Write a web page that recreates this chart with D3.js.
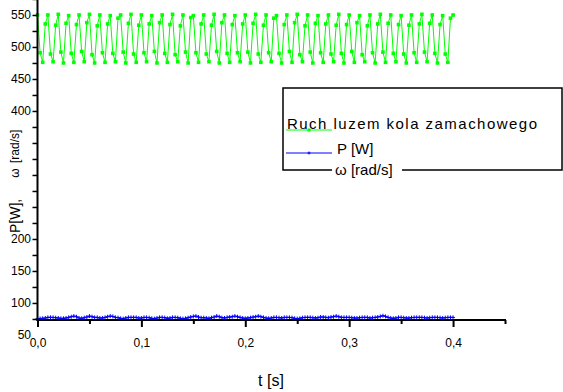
<!DOCTYPE html>
<html><head><meta charset="utf-8">
<script src="https://cdn.jsdelivr.net/npm/d3@7"></script>
<style>
html,body{margin:0;padding:0;background:#fff;}
svg{display:block;font-family:"Liberation Sans",Arial,sans-serif;}
</style></head>
<body>
<svg id="chart" width="563" height="392"></svg>
<script>
// ---- data ----
const tStart = 0, tStep = 0.0025;
const omegaSeries = [
550,491,476,536, 550,489,477,534, 551,492,475,537, 549,490,476,535,
550,493,477,538, 551,488,475,533, 550,491,476,536, 549,490,477,545,
550,492,475,537, 551,489,476,534, 550,491,477,536, 549,493,475,538,
550,490,476,535, 551,488,477,533, 550,492,475,546, 549,491,476,536,
550,489,477,534, 551,493,475,538, 550,490,476,535, 549,491,477,536,
550,492,475,537, 551,489,476,534, 550,491,477,545, 549,490,475,535,
550,493,476,538, 551,488,477,533, 550,492,475,537, 549,491,476,536,
550,489,477,534, 551,490,475,535, 550,493,476,538, 549,488,477,533,
550,491,475,536, 551,492,476,537, 550,490,477,535, 549,489,475,534,
550,491,476,536, 551,492,477,537, 550,490,475,535, 549,489,476,545,
550];
const powerSeries = [
75.5,75.8,76,76.5,77.5,77.5,77.5,77,76.5,76,
76,76.5,77.5,78.5,79.5,78.5,76.5,76,77,78,
79.5,78.5,77.5,77.5,76.5,76.5,77.5,78.5,79.5,79,
77.5,77,76,75.5,76.5,77.5,77.5,77.5,77.5,76.5,
76.5,77.5,77.5,77,76,75.5,76.5,77.5,77.5,77,
76,76.5,77.5,77.5,77,76,75.5,76,77,78,
79,79.5,78,77,77,76.5,76,77,78,79.5,
78.5,77,76.5,77.5,78,78.5,79.5,78.5,77.5,76.5,
76,76.5,77,78,78.5,79.5,78.5,77.5,76.5,76,
76.5,77.5,77.5,77,76.5,77.5,77.5,77.5,77,76,
75.5,76,77,77.5,77.5,77.5,77,76.5,77,78,
78,77.5,77,78,78.5,79.5,78.5,77.5,77.5,77.5,
77.5,77,76.5,76.5,77,77.5,77.5,77.5,76.5,77,
77.5,78,79,80,79,77.5,76.5,76,76.5,77.5,
77.5,77,76.5,76.5,77,77.5,77.5,77.5,77.5,77,
76.5,77,77.5,77.5,77.5,77,76.5,77,77.5,77.5,77.5];
const xTicks = [0,0.05,0.1,0.15,0.2,0.25,0.3,0.35,0.4,0.45];
const xTickLabels = ["0,0","0,1","0,2","0,3","0,4"];
const yTicks = [75,100,125,150,175,200,225,250,275,300,325,350,375,400,425,450,475,500,525,550,575];
const yTickLabels = [50,100,150,200,400,450,500,550];
const legendLabels = ["Ruch luzem kola zamachowego","P [W]","ω [rad/s]"];
const xTitle = "t [s]";
const yTitleParts = ["P[W],","ω","[rad/s]"];

// ---- chart ----
const svg = d3.select("#chart");
const x = d3.scaleLinear().domain([0,0.45]).range([37.5,505]);
const y = d3.scaleLinear().domain([73.4,573.4]).range([320,0]);

const omega = omegaSeries.map((v,i)=>({t:tStart+i*tStep, v}));
const power = powerSeries.map((v,i)=>({t:tStart+i*tStep, v}));

const line = d3.line().x(d=>x(d.t)).y(d=>y(d.v));

// green series
svg.append("path").datum(omega).attr("d",line)
  .attr("fill","none").attr("stroke","#00ff00").attr("stroke-width",1);
svg.append("g").selectAll("rect").data(omega).join("rect")
  .attr("x",d=>x(d.t)-1.8).attr("y",d=>y(d.v)-1.8)
  .attr("width",3.6).attr("height",3.6).attr("fill","#00ff00");

// blue series
svg.append("path").datum(power).attr("d",line)
  .attr("fill","none").attr("stroke","#0000ff").attr("stroke-width",1);
svg.append("g").selectAll("path").data(power).join("path")
  .attr("d",d=>`M${x(d.t)-2},${y(d.v)}h4M${x(d.t)},${y(d.v)-2}v4`)
  .attr("stroke","#0000ff").attr("stroke-width",1).attr("fill","none");

// y axis
const yAxis = d3.axisLeft(y).tickValues(yTicks).tickSize(5).tickPadding(4)
  .tickFormat(d => yTickLabels.includes(d) ? d : "");
const gy = svg.append("g").attr("transform","translate(37.5,0)").call(yAxis);
gy.select(".domain").remove();
gy.selectAll(".tick line").attr("stroke","#000").attr("stroke-width",1.5);
gy.selectAll(".tick text").attr("font-size",12).attr("fill","#000").attr("x",-6.5);
gy.append("text").attr("x",-6.5).attr("y",y(50)).attr("dy","0.32em")
  .attr("text-anchor","end").attr("font-size",12).attr("fill","#000").text(yTickLabels[0]);
svg.append("line").attr("x1",37.5).attr("x2",37.5).attr("y1",0).attr("y2",321)
  .attr("stroke","#000").attr("stroke-width",2);

// x axis
const xAxis = d3.axisBottom(x).tickValues(xTicks)
  .tickSize(0)
  .tickFormat(d => { const i = Math.round(d*10); return Math.abs(d*10-i)<1e-9 ? xTickLabels[i] : ""; });
const gx = svg.append("g").attr("transform","translate(0,320)").call(xAxis);
gx.select(".domain").remove();
gx.selectAll(".tick line").attr("stroke","#000").attr("stroke-width",2)
  .attr("y2",(d,i)=> i%2===0 ? 7 : 4);
gx.selectAll(".tick text").attr("font-size",12).attr("fill","#000").attr("y",26.5).attr("dy",0);
svg.append("line").attr("x1",36.5).attr("x2",506).attr("y1",320).attr("y2",320)
  .attr("stroke","#000").attr("stroke-width",2);

// titles
svg.append("text").attr("x",271).attr("y",386).attr("text-anchor","middle")
  .attr("font-size",16).attr("fill","#000").text(xTitle);
svg.append("text").attr("transform","translate(20,233) rotate(-90)")
  .attr("text-anchor","start").attr("font-size",14).attr("fill","#000").text(yTitleParts[0]);
svg.append("text").attr("transform","translate(19,173) rotate(-90)")
  .attr("text-anchor","middle").attr("font-size",12).attr("fill","#000").text(yTitleParts[1]);
svg.append("text").attr("transform","translate(19,163) rotate(-90)")
  .attr("text-anchor","start").attr("font-size",12).attr("fill","#000").text(yTitleParts[2]);

// legend
const lg = svg.append("g");
lg.append("rect").attr("x",283).attr("y",88).attr("width",279).attr("height",82)
  .attr("fill","#fff").attr("stroke","#000").attr("stroke-width",1.5);
lg.append("line").attr("x1",286).attr("x2",332).attr("y1",130).attr("y2",130)
  .attr("stroke","#00ff00").attr("stroke-width",1);
lg.append("rect").attr("x",307.5).attr("y",128.5).attr("width",3).attr("height",3).attr("fill","#00ff00");
lg.append("text").attr("x",287).attr("y",129).attr("font-size",15).attr("fill","#000")
  .attr("textLength",250).text(legendLabels[0]);
lg.append("line").attr("x1",286).attr("x2",332).attr("y1",153).attr("y2",153)
  .attr("stroke","#0000ff").attr("stroke-width",1);
lg.append("path").attr("d","M307.5,153h3M309,151.5v3").attr("stroke","#0000ff").attr("stroke-width",1);
lg.append("text").attr("x",337).attr("y",154).attr("font-size",15).attr("fill","#000").text(legendLabels[1]);
lg.append("rect").attr("x",332).attr("y",162).attr("width",70).attr("height",16).attr("fill","#fff");
lg.append("text").attr("x",335).attr("y",175).attr("font-size",15).attr("fill","#000").text(legendLabels[2]);
</script>
</body></html>
